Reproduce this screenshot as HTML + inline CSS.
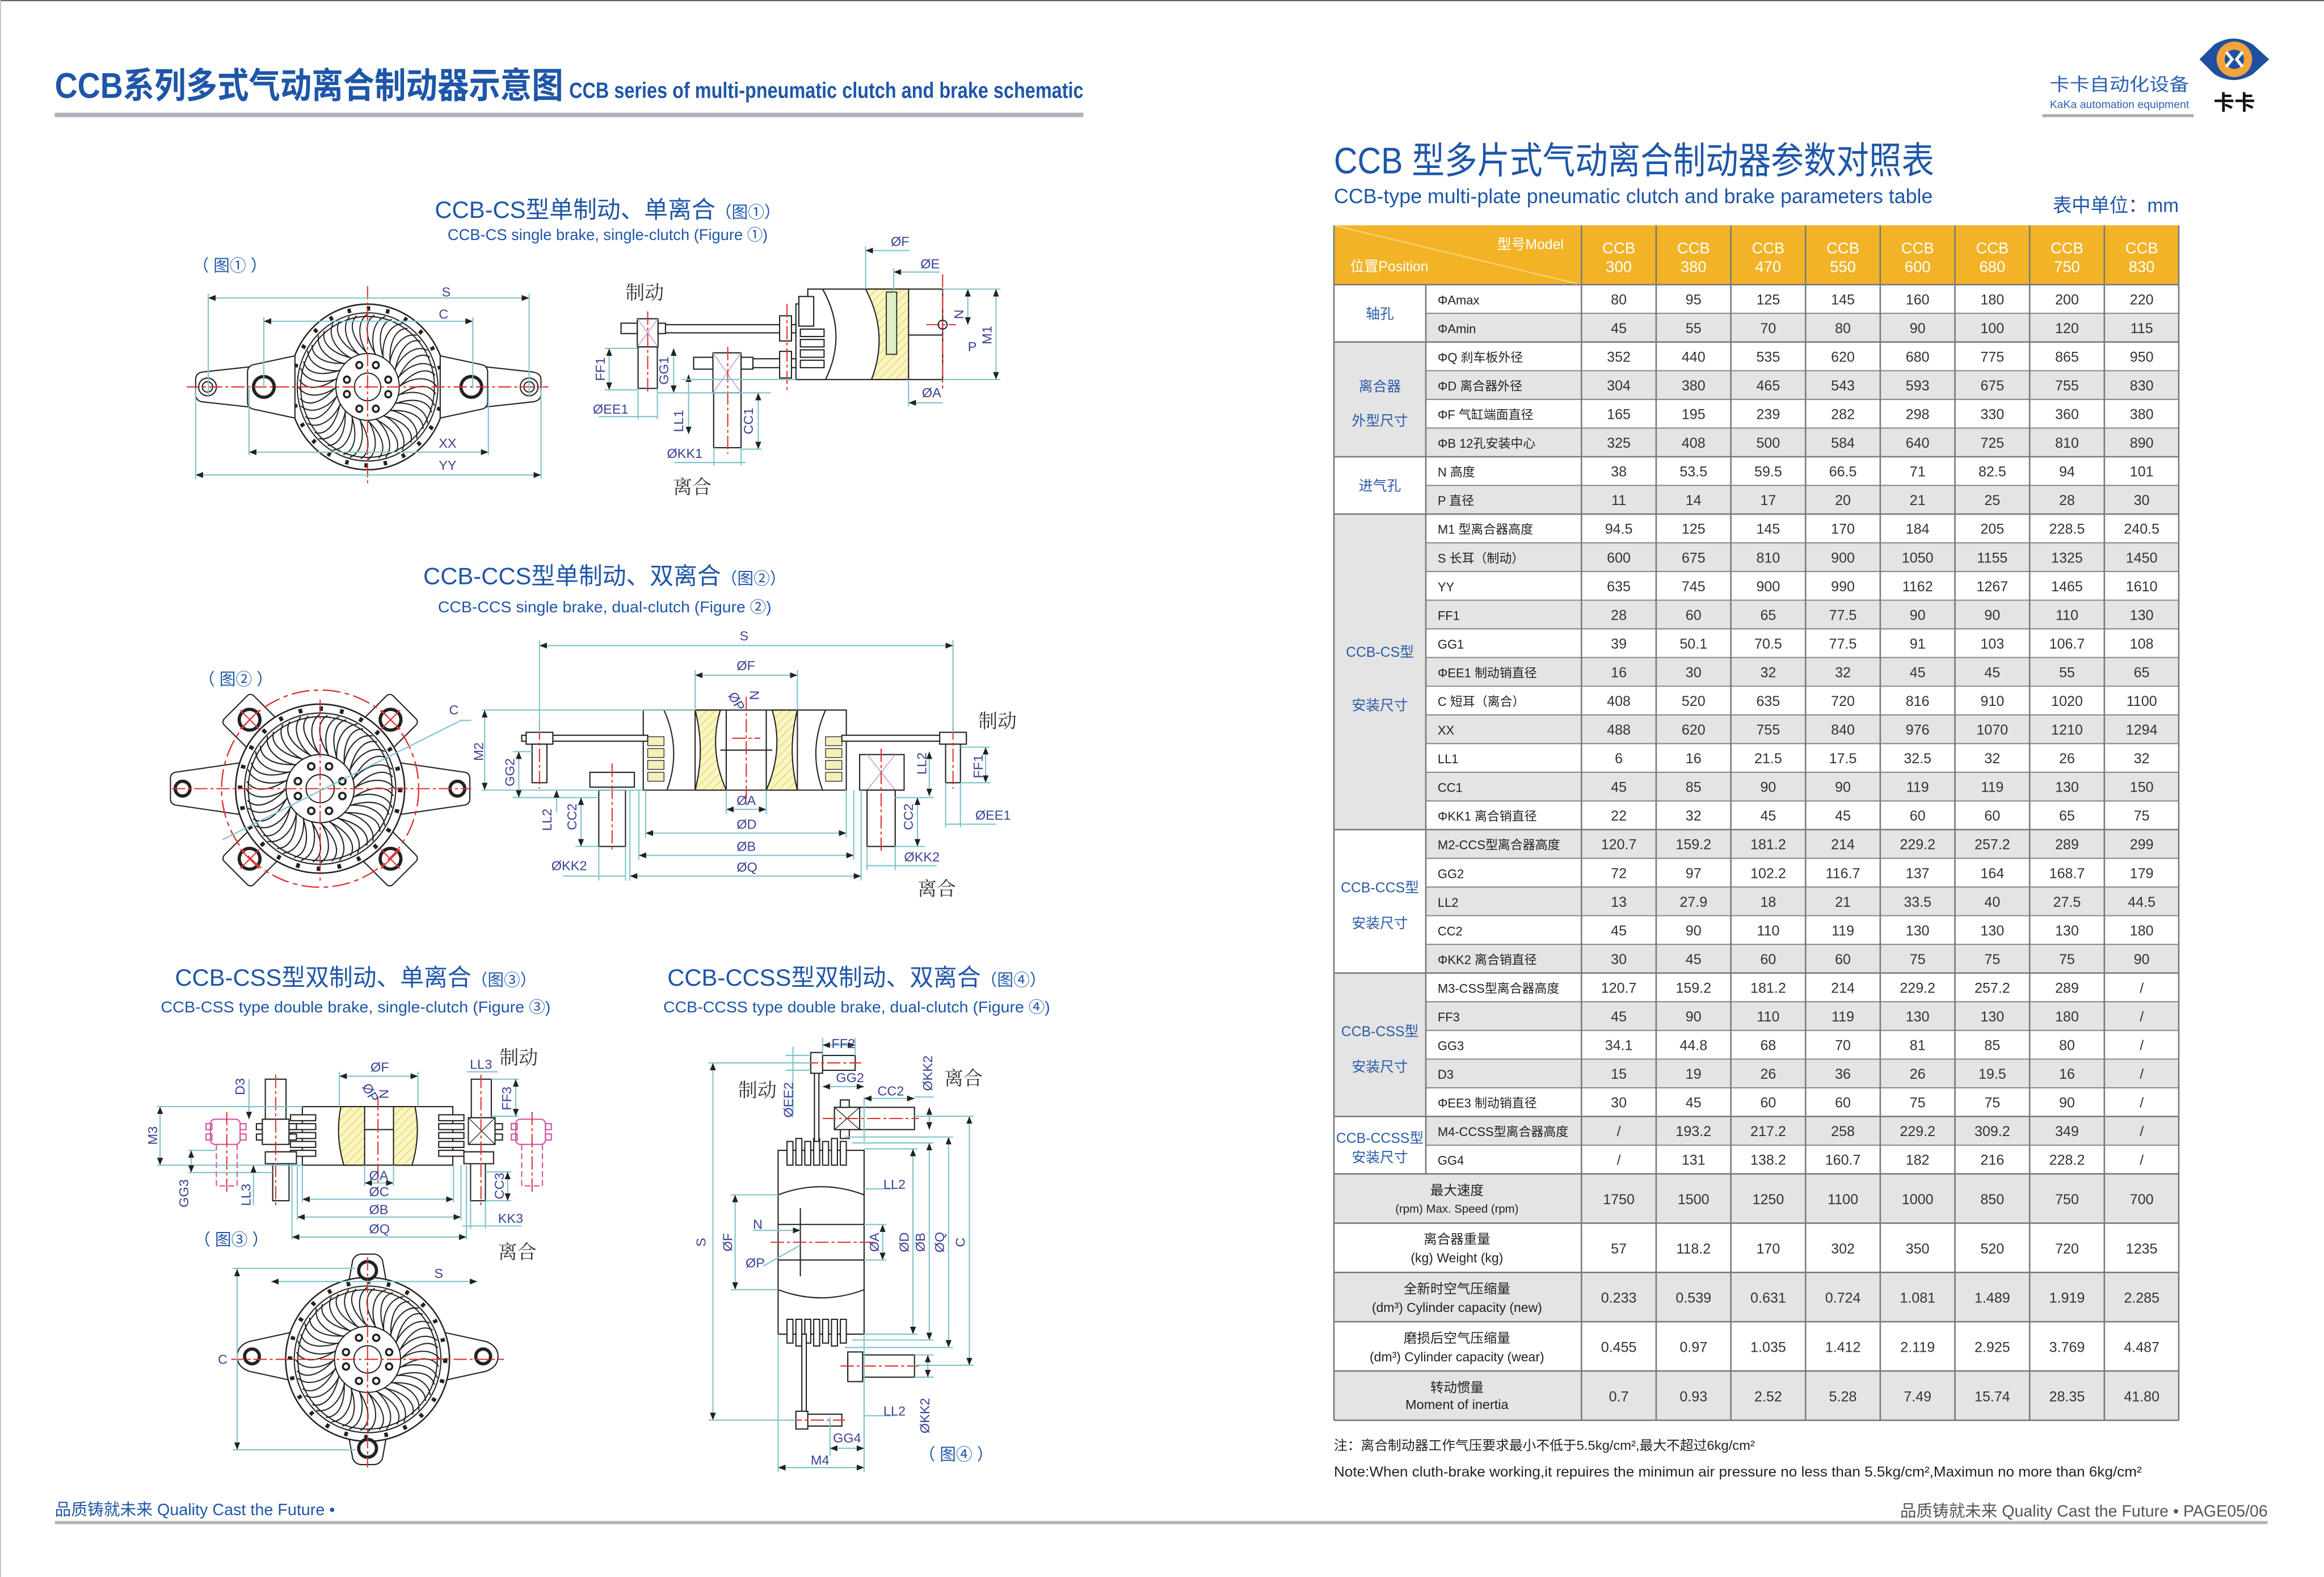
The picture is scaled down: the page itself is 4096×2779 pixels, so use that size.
<!DOCTYPE html>
<html><head><meta charset="utf-8"><style>
html,body{margin:0;padding:0;background:#fff}
svg{display:block}
.k{fill:none;stroke:#222;stroke-width:.8}
.kw{fill:#fff;stroke:#222;stroke-width:.8}
.d{stroke:#7cc3cc;stroke-width:.8;fill:none}
.r{stroke:#e0312f;stroke-width:.8;fill:none;stroke-dasharray:9 2 2 2}
.lb{fill:#3a4394;font-family:"Liberation Sans",sans-serif;font-size:9px}
.cj{fill:#333;font-family:"Noto Serif CJK SC","Liberation Serif",serif;font-size:13px}
.bl{fill:#1e56a8;font-family:"Liberation Sans","Noto Sans CJK SC",sans-serif}
.v{fill:#333;font-family:"Liberation Sans",sans-serif;font-size:9.6px;text-anchor:middle}
.lab{fill:#222;font-family:"Liberation Sans","Noto Sans CJK SC",sans-serif;font-size:8.4px}
.gp{fill:#2b5aa8;font-family:"Liberation Sans","Noto Sans CJK SC",sans-serif;font-size:9.5px;text-anchor:middle}
.hd{fill:#fff;font-family:"Liberation Sans",sans-serif;font-size:10.5px;text-anchor:middle}
.hat{fill:url(#hp);stroke:#222;stroke-width:.8}
</style></head><body>
<svg width="4096" height="2779" viewBox="0 0 1568 1063.8" xmlns="http://www.w3.org/2000/svg" xmlns:xlink="http://www.w3.org/1999/xlink">
<defs>
<marker id="ar" viewBox="0 0 10 10" refX="10" refY="5" markerWidth="5" markerHeight="5" markerUnits="userSpaceOnUse" orient="auto-start-reverse"><path d="M0 1 L10 5 L0 9 Z" fill="#222"/></marker>
<pattern id="hp" width="4" height="4" patternUnits="userSpaceOnUse" patternTransform="rotate(45)"><rect width="4" height="4" fill="#fbf5c4"/><line x1="0" y1="0" x2="0" y2="4" stroke="#e2d35a" stroke-width="1"/></pattern>
<path id="bl" d="M21 -5 C 30 -16, 42 -19, 48.5 -13 M23 0 C 33 -11, 43 -14, 49 -8" fill="none" stroke="#222" stroke-width=".8"/>
<g id="fan">
<circle r="57" fill="#fff" stroke="#222" stroke-width="1"/>
<circle r="54" fill="none" stroke="#222" stroke-width="3" stroke-dasharray="2.5 11.6"/>
<circle r="51" class="k"/><circle r="48.5" class="k"/>
<use href="#bl"/><use href="#bl" transform="rotate(15)"/><use href="#bl" transform="rotate(30)"/><use href="#bl" transform="rotate(45)"/><use href="#bl" transform="rotate(60)"/><use href="#bl" transform="rotate(75)"/><use href="#bl" transform="rotate(90)"/><use href="#bl" transform="rotate(105)"/><use href="#bl" transform="rotate(120)"/><use href="#bl" transform="rotate(135)"/><use href="#bl" transform="rotate(150)"/><use href="#bl" transform="rotate(165)"/><use href="#bl" transform="rotate(180)"/><use href="#bl" transform="rotate(195)"/><use href="#bl" transform="rotate(210)"/><use href="#bl" transform="rotate(225)"/><use href="#bl" transform="rotate(240)"/><use href="#bl" transform="rotate(255)"/><use href="#bl" transform="rotate(270)"/><use href="#bl" transform="rotate(285)"/><use href="#bl" transform="rotate(300)"/><use href="#bl" transform="rotate(315)"/><use href="#bl" transform="rotate(330)"/><use href="#bl" transform="rotate(345)"/>
<circle r="23" fill="#fff" stroke="#222" stroke-width=".8"/>
<circle r="9.5" class="k"/>
<g fill="none" stroke="#222" stroke-width="1.4"><circle cx="6" cy="-15" r="2.2"/><circle cx="-6" cy="-15" r="2.2"/><circle cx="15" cy="-5" r="2.2"/><circle cx="15" cy="5" r="2.2"/><circle cx="6" cy="15" r="2.2"/><circle cx="-6" cy="15" r="2.2"/><circle cx="-15" cy="5" r="2.2"/><circle cx="-15" cy="-5" r="2.2"/></g>
</g>
</defs>

<!-- page frame -->
<line x1="0" y1=".4" x2="1568" y2=".4" stroke="#666" stroke-width=".8"/>
<line x1=".3" y1="0" x2=".3" y2="1064" stroke="#bbb" stroke-width=".6"/>

<!-- Left header -->
<text x="37" y="66" class="bl" font-size="24" font-weight="bold" textLength="343" lengthAdjust="spacingAndGlyphs">CCB系列多式气动离合制动器示意图</text>
<text x="384" y="66" class="bl" font-size="15" font-weight="bold" textLength="347" lengthAdjust="spacingAndGlyphs">CCB series of multi-pneumatic clutch and brake schematic</text>
<rect x="37" y="76" width="694" height="3" fill="#b0b4b8"/>

<!-- Logo -->
<text x="1383" y="61" font-size="12" fill="#2a62b0" font-family="'Noto Sans CJK SC',sans-serif" textLength="94" lengthAdjust="spacingAndGlyphs">卡卡自动化设备</text>
<text x="1383" y="73" font-size="7.5" fill="#2a62b0" font-family="'Liberation Sans',sans-serif" textLength="94" lengthAdjust="spacingAndGlyphs">KaKa automation equipment</text>
<rect x="1378" y="77" width="102" height="2" fill="#a8abb0"/>
<path d="M1484 40 L1494 30 Q1507 22 1520 30 L1531 40 L1520 50 Q1507 58 1494 50 Z" fill="#1f4fa0"/>
<circle cx="1507.5" cy="40" r="12" fill="#f2a33a"/>
<circle cx="1507.5" cy="40" r="6.5" fill="#1f4fa0"/>
<path d="M1502 35 L1506 40 L1502 45 M1513 35 L1509 40 L1513 45" stroke="#fff" stroke-width="2" fill="none"/>
<text x="1507.5" y="74" font-size="14" font-weight="bold" text-anchor="middle" fill="#111" font-family="'Noto Sans CJK SC',sans-serif">卡卡</text>

<!-- Right title -->
<text x="900" y="117" class="bl" font-size="25" textLength="405" lengthAdjust="spacingAndGlyphs">CCB  型多片式气动离合制动器参数对照表</text>
<text x="900" y="137" class="bl" font-size="14" textLength="404" lengthAdjust="spacingAndGlyphs">CCB-type multi-plate pneumatic clutch and brake parameters table</text>
<text x="1385" y="143" class="bl" font-size="13" textLength="85" lengthAdjust="spacingAndGlyphs">表中单位：mm</text>

<!-- ===================== TABLE ===================== -->
<rect x="900" y="152" width="570" height="40" fill="#f2b327"/>
<line x1="900" y1="152" x2="1067" y2="192" stroke="#f7d67e" stroke-width=".8"/>
<text x="1055" y="168" fill="#fff" font-size="9.5" text-anchor="end" font-family="'Liberation Sans','Noto Sans CJK SC',sans-serif">型号Model</text>
<text x="911" y="183" fill="#fff" font-size="9.5" font-family="'Liberation Sans','Noto Sans CJK SC',sans-serif">位置Position</text>
<text y="171" class="hd"><tspan x="1092.2">CCB</tspan><tspan x="1142.6">CCB</tspan><tspan x="1193">CCB</tspan><tspan x="1243.4">CCB</tspan><tspan x="1293.8">CCB</tspan><tspan x="1344.2">CCB</tspan><tspan x="1394.6">CCB</tspan><tspan x="1445">CCB</tspan></text>
<text y="183.5" class="hd"><tspan x="1092.2">300</tspan><tspan x="1142.6">380</tspan><tspan x="1193">470</tspan><tspan x="1243.4">550</tspan><tspan x="1293.8">600</tspan><tspan x="1344.2">680</tspan><tspan x="1394.6">750</tspan><tspan x="1445">830</tspan></text>

<g fill="#e4e4e4">
<rect x="962" y="211.35" width="508" height="19.35"/><rect x="962" y="250.05" width="508" height="19.35"/><rect x="962" y="288.75" width="508" height="19.35"/><rect x="962" y="327.45" width="508" height="19.35"/><rect x="962" y="366.15" width="508" height="19.35"/><rect x="962" y="404.85" width="508" height="19.35"/><rect x="962" y="443.55" width="508" height="19.35"/><rect x="962" y="482.25" width="508" height="19.35"/><rect x="962" y="520.95" width="508" height="19.35"/><rect x="962" y="559.65" width="508" height="19.35"/><rect x="962" y="598.35" width="508" height="19.35"/><rect x="962" y="637.05" width="508" height="19.35"/><rect x="962" y="675.75" width="508" height="19.35"/><rect x="962" y="714.45" width="508" height="19.35"/><rect x="962" y="753.15" width="508" height="19.35"/>
<rect x="900" y="230.7" width="62" height="77.4"/><rect x="900" y="346.8" width="62" height="212.85"/><rect x="900" y="656.4" width="62" height="96.75"/>
<rect x="900" y="791.85" width="570" height="33.25"/><rect x="900" y="858.35" width="570" height="33.25"/><rect x="900" y="924.85" width="570" height="33.25"/>
</g>
<g stroke="#8a8a8a" stroke-width=".8">
<line x1="962" y1="211.35" x2="1470" y2="211.35"/><line x1="962" y1="250.05" x2="1470" y2="250.05"/><line x1="962" y1="269.4" x2="1470" y2="269.4"/><line x1="962" y1="288.75" x2="1470" y2="288.75"/><line x1="962" y1="327.45" x2="1470" y2="327.45"/><line x1="962" y1="366.15" x2="1470" y2="366.15"/><line x1="962" y1="385.5" x2="1470" y2="385.5"/><line x1="962" y1="404.85" x2="1470" y2="404.85"/><line x1="962" y1="424.2" x2="1470" y2="424.2"/><line x1="962" y1="443.55" x2="1470" y2="443.55"/><line x1="962" y1="462.9" x2="1470" y2="462.9"/><line x1="962" y1="482.25" x2="1470" y2="482.25"/><line x1="962" y1="501.6" x2="1470" y2="501.6"/><line x1="962" y1="520.95" x2="1470" y2="520.95"/><line x1="962" y1="540.3" x2="1470" y2="540.3"/><line x1="962" y1="579" x2="1470" y2="579"/><line x1="962" y1="598.35" x2="1470" y2="598.35"/><line x1="962" y1="617.7" x2="1470" y2="617.7"/><line x1="962" y1="637.05" x2="1470" y2="637.05"/><line x1="962" y1="675.75" x2="1470" y2="675.75"/><line x1="962" y1="695.1" x2="1470" y2="695.1"/><line x1="962" y1="714.45" x2="1470" y2="714.45"/><line x1="962" y1="733.8" x2="1470" y2="733.8"/><line x1="962" y1="772.5" x2="1470" y2="772.5"/>
</g>
<g stroke="#7a7a7a" stroke-width="1">
<line x1="900" y1="192" x2="1470" y2="192"/><line x1="900" y1="230.7" x2="1470" y2="230.7"/><line x1="900" y1="308.1" x2="1470" y2="308.1"/><line x1="900" y1="346.8" x2="1470" y2="346.8"/><line x1="900" y1="559.65" x2="1470" y2="559.65"/><line x1="900" y1="656.4" x2="1470" y2="656.4"/><line x1="900" y1="753.15" x2="1470" y2="753.15"/><line x1="900" y1="791.85" x2="1470" y2="791.85"/><line x1="900" y1="825.1" x2="1470" y2="825.1"/><line x1="900" y1="858.35" x2="1470" y2="858.35"/><line x1="900" y1="891.6" x2="1470" y2="891.6"/><line x1="900" y1="924.85" x2="1470" y2="924.85"/><line x1="900" y1="958.1" x2="1470" y2="958.1"/>
<line x1="900" y1="152" x2="900" y2="958.1"/><line x1="1470" y1="152" x2="1470" y2="958.1"/>
<line x1="962" y1="192" x2="962" y2="791.85"/>
<line x1="1067" y1="152" x2="1067" y2="958.1"/><line x1="1117.4" y1="152" x2="1117.4" y2="958.1"/><line x1="1167.8" y1="152" x2="1167.8" y2="958.1"/><line x1="1218.2" y1="152" x2="1218.2" y2="958.1"/><line x1="1268.6" y1="152" x2="1268.6" y2="958.1"/><line x1="1319" y1="152" x2="1319" y2="958.1"/><line x1="1369.4" y1="152" x2="1369.4" y2="958.1"/><line x1="1419.8" y1="152" x2="1419.8" y2="958.1"/>
</g>

<!-- group labels -->
<text x="931" y="215" class="gp">轴孔</text>
<text x="931" y="264" class="gp">离合器</text><text x="931" y="287" class="gp">外型尺寸</text>
<text x="931" y="331" class="gp">进气孔</text>
<text x="931" y="443" class="gp">CCB-CS型</text><text x="931" y="479" class="gp">安装尺寸</text>
<text x="931" y="602" class="gp" font-size="8.8">CCB-CCS型</text><text x="931" y="626" class="gp">安装尺寸</text>
<text x="931" y="699" class="gp" font-size="8.8">CCB-CSS型</text><text x="931" y="723" class="gp">安装尺寸</text>
<text x="931" y="771" class="gp" font-size="8.4">CCB-CCSS型</text><text x="931" y="784" class="gp" font-size="8.8">安装尺寸</text>

<!-- row labels -->
<g class="lab">
<text x="970" y="205.3">ΦAmax</text><text x="970" y="224.65">ΦAmin</text>
<text x="970" y="244">ΦQ  刹车板外径</text><text x="970" y="263.35">ΦD  离合器外径</text><text x="970" y="282.7">ΦF  气缸端面直径</text><text x="970" y="302.05">ΦB  12孔安装中心</text>
<text x="970" y="321.4">N    高度</text><text x="970" y="340.75">P    直径</text>
<text x="970" y="360.1">M1  型离合器高度</text><text x="970" y="379.45">S    长耳（制动）</text><text x="970" y="398.8">YY</text><text x="970" y="418.15">FF1</text><text x="970" y="437.5">GG1</text><text x="970" y="456.85">ΦEE1 制动销直径</text><text x="970" y="476.2">C    短耳（离合）</text><text x="970" y="495.55">XX</text><text x="970" y="514.9">LL1</text><text x="970" y="534.25">CC1</text><text x="970" y="553.6">ΦKK1 离合销直径</text>
<text x="970" y="572.95">M2-CCS型离合器高度</text><text x="970" y="592.3">GG2</text><text x="970" y="611.65">LL2</text><text x="970" y="631">CC2</text><text x="970" y="650.35">ΦKK2 离合销直径</text>
<text x="970" y="669.7">M3-CSS型离合器高度</text><text x="970" y="689.05">FF3</text><text x="970" y="708.4">GG3</text><text x="970" y="727.75">D3</text><text x="970" y="747.1">ΦEE3 制动销直径</text>
<text x="970" y="766.45">M4-CCSS型离合器高度</text><text x="970" y="785.8">GG4</text>
</g>

<!-- values -->
<g class="v">
<text y="205.3"><tspan x="1092.2">80</tspan><tspan x="1142.6">95</tspan><tspan x="1193">125</tspan><tspan x="1243.4">145</tspan><tspan x="1293.8">160</tspan><tspan x="1344.2">180</tspan><tspan x="1394.6">200</tspan><tspan x="1445">220</tspan></text>
<text y="224.65"><tspan x="1092.2">45</tspan><tspan x="1142.6">55</tspan><tspan x="1193">70</tspan><tspan x="1243.4">80</tspan><tspan x="1293.8">90</tspan><tspan x="1344.2">100</tspan><tspan x="1394.6">120</tspan><tspan x="1445">115</tspan></text>
<text y="244"><tspan x="1092.2">352</tspan><tspan x="1142.6">440</tspan><tspan x="1193">535</tspan><tspan x="1243.4">620</tspan><tspan x="1293.8">680</tspan><tspan x="1344.2">775</tspan><tspan x="1394.6">865</tspan><tspan x="1445">950</tspan></text>
<text y="263.35"><tspan x="1092.2">304</tspan><tspan x="1142.6">380</tspan><tspan x="1193">465</tspan><tspan x="1243.4">543</tspan><tspan x="1293.8">593</tspan><tspan x="1344.2">675</tspan><tspan x="1394.6">755</tspan><tspan x="1445">830</tspan></text>
<text y="282.7"><tspan x="1092.2">165</tspan><tspan x="1142.6">195</tspan><tspan x="1193">239</tspan><tspan x="1243.4">282</tspan><tspan x="1293.8">298</tspan><tspan x="1344.2">330</tspan><tspan x="1394.6">360</tspan><tspan x="1445">380</tspan></text>
<text y="302.05"><tspan x="1092.2">325</tspan><tspan x="1142.6">408</tspan><tspan x="1193">500</tspan><tspan x="1243.4">584</tspan><tspan x="1293.8">640</tspan><tspan x="1344.2">725</tspan><tspan x="1394.6">810</tspan><tspan x="1445">890</tspan></text>
<text y="321.4"><tspan x="1092.2">38</tspan><tspan x="1142.6">53.5</tspan><tspan x="1193">59.5</tspan><tspan x="1243.4">66.5</tspan><tspan x="1293.8">71</tspan><tspan x="1344.2">82.5</tspan><tspan x="1394.6">94</tspan><tspan x="1445">101</tspan></text>
<text y="340.75"><tspan x="1092.2">11</tspan><tspan x="1142.6">14</tspan><tspan x="1193">17</tspan><tspan x="1243.4">20</tspan><tspan x="1293.8">21</tspan><tspan x="1344.2">25</tspan><tspan x="1394.6">28</tspan><tspan x="1445">30</tspan></text>
<text y="360.1"><tspan x="1092.2">94.5</tspan><tspan x="1142.6">125</tspan><tspan x="1193">145</tspan><tspan x="1243.4">170</tspan><tspan x="1293.8">184</tspan><tspan x="1344.2">205</tspan><tspan x="1394.6">228.5</tspan><tspan x="1445">240.5</tspan></text>
<text y="379.45"><tspan x="1092.2">600</tspan><tspan x="1142.6">675</tspan><tspan x="1193">810</tspan><tspan x="1243.4">900</tspan><tspan x="1293.8">1050</tspan><tspan x="1344.2">1155</tspan><tspan x="1394.6">1325</tspan><tspan x="1445">1450</tspan></text>
<text y="398.8"><tspan x="1092.2">635</tspan><tspan x="1142.6">745</tspan><tspan x="1193">900</tspan><tspan x="1243.4">990</tspan><tspan x="1293.8">1162</tspan><tspan x="1344.2">1267</tspan><tspan x="1394.6">1465</tspan><tspan x="1445">1610</tspan></text>
<text y="418.15"><tspan x="1092.2">28</tspan><tspan x="1142.6">60</tspan><tspan x="1193">65</tspan><tspan x="1243.4">77.5</tspan><tspan x="1293.8">90</tspan><tspan x="1344.2">90</tspan><tspan x="1394.6">110</tspan><tspan x="1445">130</tspan></text>
<text y="437.5"><tspan x="1092.2">39</tspan><tspan x="1142.6">50.1</tspan><tspan x="1193">70.5</tspan><tspan x="1243.4">77.5</tspan><tspan x="1293.8">91</tspan><tspan x="1344.2">103</tspan><tspan x="1394.6">106.7</tspan><tspan x="1445">108</tspan></text>
<text y="456.85"><tspan x="1092.2">16</tspan><tspan x="1142.6">30</tspan><tspan x="1193">32</tspan><tspan x="1243.4">32</tspan><tspan x="1293.8">45</tspan><tspan x="1344.2">45</tspan><tspan x="1394.6">55</tspan><tspan x="1445">65</tspan></text>
<text y="476.2"><tspan x="1092.2">408</tspan><tspan x="1142.6">520</tspan><tspan x="1193">635</tspan><tspan x="1243.4">720</tspan><tspan x="1293.8">816</tspan><tspan x="1344.2">910</tspan><tspan x="1394.6">1020</tspan><tspan x="1445">1100</tspan></text>
<text y="495.55"><tspan x="1092.2">488</tspan><tspan x="1142.6">620</tspan><tspan x="1193">755</tspan><tspan x="1243.4">840</tspan><tspan x="1293.8">976</tspan><tspan x="1344.2">1070</tspan><tspan x="1394.6">1210</tspan><tspan x="1445">1294</tspan></text>
<text y="514.9"><tspan x="1092.2">6</tspan><tspan x="1142.6">16</tspan><tspan x="1193">21.5</tspan><tspan x="1243.4">17.5</tspan><tspan x="1293.8">32.5</tspan><tspan x="1344.2">32</tspan><tspan x="1394.6">26</tspan><tspan x="1445">32</tspan></text>
<text y="534.25"><tspan x="1092.2">45</tspan><tspan x="1142.6">85</tspan><tspan x="1193">90</tspan><tspan x="1243.4">90</tspan><tspan x="1293.8">119</tspan><tspan x="1344.2">119</tspan><tspan x="1394.6">130</tspan><tspan x="1445">150</tspan></text>
<text y="553.6"><tspan x="1092.2">22</tspan><tspan x="1142.6">32</tspan><tspan x="1193">45</tspan><tspan x="1243.4">45</tspan><tspan x="1293.8">60</tspan><tspan x="1344.2">60</tspan><tspan x="1394.6">65</tspan><tspan x="1445">75</tspan></text>
<text y="572.95"><tspan x="1092.2">120.7</tspan><tspan x="1142.6">159.2</tspan><tspan x="1193">181.2</tspan><tspan x="1243.4">214</tspan><tspan x="1293.8">229.2</tspan><tspan x="1344.2">257.2</tspan><tspan x="1394.6">289</tspan><tspan x="1445">299</tspan></text>
<text y="592.3"><tspan x="1092.2">72</tspan><tspan x="1142.6">97</tspan><tspan x="1193">102.2</tspan><tspan x="1243.4">116.7</tspan><tspan x="1293.8">137</tspan><tspan x="1344.2">164</tspan><tspan x="1394.6">168.7</tspan><tspan x="1445">179</tspan></text>
<text y="611.65"><tspan x="1092.2">13</tspan><tspan x="1142.6">27.9</tspan><tspan x="1193">18</tspan><tspan x="1243.4">21</tspan><tspan x="1293.8">33.5</tspan><tspan x="1344.2">40</tspan><tspan x="1394.6">27.5</tspan><tspan x="1445">44.5</tspan></text>
<text y="631"><tspan x="1092.2">45</tspan><tspan x="1142.6">90</tspan><tspan x="1193">110</tspan><tspan x="1243.4">119</tspan><tspan x="1293.8">130</tspan><tspan x="1344.2">130</tspan><tspan x="1394.6">130</tspan><tspan x="1445">180</tspan></text>
<text y="650.35"><tspan x="1092.2">30</tspan><tspan x="1142.6">45</tspan><tspan x="1193">60</tspan><tspan x="1243.4">60</tspan><tspan x="1293.8">75</tspan><tspan x="1344.2">75</tspan><tspan x="1394.6">75</tspan><tspan x="1445">90</tspan></text>
<text y="669.7"><tspan x="1092.2">120.7</tspan><tspan x="1142.6">159.2</tspan><tspan x="1193">181.2</tspan><tspan x="1243.4">214</tspan><tspan x="1293.8">229.2</tspan><tspan x="1344.2">257.2</tspan><tspan x="1394.6">289</tspan><tspan x="1445">/</tspan></text>
<text y="689.05"><tspan x="1092.2">45</tspan><tspan x="1142.6">90</tspan><tspan x="1193">110</tspan><tspan x="1243.4">119</tspan><tspan x="1293.8">130</tspan><tspan x="1344.2">130</tspan><tspan x="1394.6">180</tspan><tspan x="1445">/</tspan></text>
<text y="708.4"><tspan x="1092.2">34.1</tspan><tspan x="1142.6">44.8</tspan><tspan x="1193">68</tspan><tspan x="1243.4">70</tspan><tspan x="1293.8">81</tspan><tspan x="1344.2">85</tspan><tspan x="1394.6">80</tspan><tspan x="1445">/</tspan></text>
<text y="727.75"><tspan x="1092.2">15</tspan><tspan x="1142.6">19</tspan><tspan x="1193">26</tspan><tspan x="1243.4">36</tspan><tspan x="1293.8">26</tspan><tspan x="1344.2">19.5</tspan><tspan x="1394.6">16</tspan><tspan x="1445">/</tspan></text>
<text y="747.1"><tspan x="1092.2">30</tspan><tspan x="1142.6">45</tspan><tspan x="1193">60</tspan><tspan x="1243.4">60</tspan><tspan x="1293.8">75</tspan><tspan x="1344.2">75</tspan><tspan x="1394.6">90</tspan><tspan x="1445">/</tspan></text>
<text y="766.45"><tspan x="1092.2">/</tspan><tspan x="1142.6">193.2</tspan><tspan x="1193">217.2</tspan><tspan x="1243.4">258</tspan><tspan x="1293.8">229.2</tspan><tspan x="1344.2">309.2</tspan><tspan x="1394.6">349</tspan><tspan x="1445">/</tspan></text>
<text y="785.8"><tspan x="1092.2">/</tspan><tspan x="1142.6">131</tspan><tspan x="1193">138.2</tspan><tspan x="1243.4">160.7</tspan><tspan x="1293.8">182</tspan><tspan x="1344.2">216</tspan><tspan x="1394.6">228.2</tspan><tspan x="1445">/</tspan></text>
<text y="812.3"><tspan x="1092.2">1750</tspan><tspan x="1142.6">1500</tspan><tspan x="1193">1250</tspan><tspan x="1243.4">1100</tspan><tspan x="1293.8">1000</tspan><tspan x="1344.2">850</tspan><tspan x="1394.6">750</tspan><tspan x="1445">700</tspan></text>
<text y="845.6"><tspan x="1092.2">57</tspan><tspan x="1142.6">118.2</tspan><tspan x="1193">170</tspan><tspan x="1243.4">302</tspan><tspan x="1293.8">350</tspan><tspan x="1344.2">520</tspan><tspan x="1394.6">720</tspan><tspan x="1445">1235</tspan></text>
<text y="878.8"><tspan x="1092.2">0.233</tspan><tspan x="1142.6">0.539</tspan><tspan x="1193">0.631</tspan><tspan x="1243.4">0.724</tspan><tspan x="1293.8">1.081</tspan><tspan x="1344.2">1.489</tspan><tspan x="1394.6">1.919</tspan><tspan x="1445">2.285</tspan></text>
<text y="912.1"><tspan x="1092.2">0.455</tspan><tspan x="1142.6">0.97</tspan><tspan x="1193">1.035</tspan><tspan x="1243.4">1.412</tspan><tspan x="1293.8">2.119</tspan><tspan x="1344.2">2.925</tspan><tspan x="1394.6">3.769</tspan><tspan x="1445">4.487</tspan></text>
<text y="945.3"><tspan x="1092.2">0.7</tspan><tspan x="1142.6">0.93</tspan><tspan x="1193">2.52</tspan><tspan x="1243.4">5.28</tspan><tspan x="1293.8">7.49</tspan><tspan x="1344.2">15.74</tspan><tspan x="1394.6">28.35</tspan><tspan x="1445">41.80</tspan></text>
</g>
<g fill="#222" font-family="'Liberation Sans','Noto Sans CJK SC',sans-serif" text-anchor="middle">
<text x="983" y="806" font-size="9">最大速度</text><text x="983" y="818" font-size="7.8">(rpm) Max. Speed (rpm)</text>
<text x="983" y="839" font-size="9">离合器重量</text><text x="983" y="851.5" font-size="8.8">(kg) Weight (kg)</text>
<text x="983" y="872.5" font-size="9">全新时空气压缩量</text><text x="983" y="885" font-size="8.8">(dm³) Cylinder capacity (new)</text>
<text x="983" y="905.8" font-size="9">磨损后空气压缩量</text><text x="983" y="918.3" font-size="8.8">(dm³) Cylinder capacity (wear)</text>
<text x="983" y="939" font-size="9">转动惯量</text><text x="983" y="950.5" font-size="9">Moment of inertia</text>
</g>

<!-- notes -->
<text x="900" y="978" font-size="9" fill="#222" font-family="'Liberation Sans','Noto Sans CJK SC',sans-serif" textLength="284" lengthAdjust="spacingAndGlyphs">注：离合制动器工作气压要求最小不低于5.5kg/cm²,最大不超过6kg/cm²</text>
<text x="900" y="996" font-size="9.5" fill="#222" font-family="'Liberation Sans',sans-serif" textLength="545" lengthAdjust="spacingAndGlyphs">Note:When cluth-brake working,it repuires the minimun air pressure no less than 5.5kg/cm²,Maximun no more than 6kg/cm²</text>

<!-- footer -->
<text x="37" y="1022" class="bl" font-size="11" textLength="189" lengthAdjust="spacingAndGlyphs">品质铸就未来 Quality Cast the Future •</text>
<text x="1530" y="1023" font-size="11" fill="#555" text-anchor="end" font-family="'Liberation Sans','Noto Sans CJK SC',sans-serif" textLength="248" lengthAdjust="spacingAndGlyphs">品质铸就未来 Quality Cast the Future • PAGE05/06</text>
<rect x="37" y="1026" width="1493" height="2.2" fill="#b4b8bc"/>

<!-- ===================== FIGURE 1 ===================== -->
<text x="410" y="147" text-anchor="middle" class="bl" font-size="16">CCB-CS型单制动、单离合<tspan font-size="11">（图①）</tspan></text>
<text x="410" y="162" text-anchor="middle" class="bl" font-size="10.5" textLength="216" lengthAdjust="spacingAndGlyphs">CCB-CS single brake, single-clutch (Figure ①)</text>
<text x="130" y="183" class="bl" font-size="11">（ 图① ）</text>

<g>
<path d="M200 244 L136 251 Q132 252 132 256 L132 266 Q132 270 136 271 L200 278 Z" class="kw"/>
<path d="M296 244 L360 251 Q365 252 365 256 L365 266 Q365 270 360 271 L296 278 Z" class="kw"/>
<use href="#fan" transform="translate(248,261) scale(.93,.98)"/>
<path d="M199 240 L171 246 Q167 247 167 251 L167 271 Q167 275 171 276 L199 282 Z" class="kw"/>
<path d="M297 240 L325 246 Q329 247 329 251 L329 271 Q329 275 325 276 L297 282 Z" class="kw"/>
<circle cx="140" cy="261" r="6" class="k"/><circle cx="140" cy="261" r="3.5" class="k"/>
<circle cx="357" cy="261" r="6" class="k"/><circle cx="357" cy="261" r="3.5" class="k"/>
<circle cx="178" cy="261" r="7" fill="#fff" stroke="#222" stroke-width="2.2"/><circle cx="318" cy="261" r="7" fill="#fff" stroke="#222" stroke-width="2.2"/>
<line x1="126" y1="261" x2="370" y2="261" class="r"/><line x1="248" y1="193" x2="248" y2="328" class="r"/>
<line x1="140.5" y1="201" x2="357" y2="201" class="d" marker-start="url(#ar)" marker-end="url(#ar)"/>
<line x1="140.5" y1="198" x2="140.5" y2="268" class="d"/><line x1="357" y1="198" x2="357" y2="268" class="d"/>
<line x1="178" y1="216.7" x2="319" y2="216.7" class="d" marker-start="url(#ar)" marker-end="url(#ar)"/>
<line x1="178" y1="214" x2="178" y2="262" class="d"/><line x1="319" y1="214" x2="319" y2="262" class="d"/>
<line x1="168" y1="305" x2="329.5" y2="305" class="d" marker-start="url(#ar)" marker-end="url(#ar)"/>
<line x1="168" y1="262" x2="168" y2="307" class="d"/><line x1="329.5" y1="262" x2="329.5" y2="307" class="d"/>
<line x1="132" y1="320.4" x2="365" y2="320.4" class="d" marker-start="url(#ar)" marker-end="url(#ar)"/>
<line x1="132" y1="262" x2="132" y2="323" class="d"/><line x1="365" y1="262" x2="365" y2="323" class="d"/>
<text x="298" y="200" class="lb" font-size="11">S</text><text x="296" y="215" class="lb" font-size="11">C</text>
<text x="296" y="302" class="lb" font-size="11">XX</text><text x="296" y="317" class="lb" font-size="11">YY</text>
</g>

<!-- fig1 side -->
<g>
<path d="M545 195 L636 195 L636 256 L537 256 L537 205 L545 205 Z" class="kw"/>
<path d="M584 195 L613 195 L613 256 L588 256 Q600 225 584 195 Z" class="hat"/>
<path d="M555 195 Q572 225 557 256" class="k"/>
<line x1="613" y1="226" x2="636" y2="226" class="k"/>
<rect x="598" y="197" width="7" height="42" fill="#dff0c8" stroke="#222" stroke-width=".7"/>
<g class="kw"><rect x="539" y="200" width="10" height="20"/><rect x="540" y="222" width="16" height="5"/><rect x="540" y="229" width="16" height="5"/><rect x="540" y="236" width="16" height="5"/><rect x="540" y="243" width="16" height="5"/></g>
<rect x="419" y="219" width="118" height="5.5" class="kw"/>
<rect x="468" y="242" width="69" height="6" class="kw"/>
<rect x="526" y="213" width="8" height="17" class="kw"/><rect x="526" y="237" width="8" height="18" class="kw"/>
<rect x="419" y="218" width="11" height="7" class="kw"/><rect x="430" y="215" width="14" height="19" class="kw"/><rect x="444" y="218" width="5" height="7" class="kw"/>
<path d="M430 215 L444 234 M444 215 L430 234" stroke="#c89ad0" stroke-width=".6"/>
<rect x="430.5" y="234" width="13" height="28" class="kw"/>
<rect x="468" y="241" width="13" height="8" class="kw"/><rect x="481" y="238" width="19" height="27" class="kw"/><rect x="500" y="241" width="8" height="8" class="kw"/>
<path d="M481 238 L500 265 M500 238 L481 265" stroke="#c89ad0" stroke-width=".6"/>
<rect x="481.5" y="265" width="18.5" height="37" class="kw"/>
<line x1="437" y1="210" x2="437" y2="266" class="r"/><line x1="491" y1="234" x2="491" y2="306" class="r"/>
<line x1="531" y1="205" x2="531" y2="265" class="r"/><line x1="636" y1="185" x2="636" y2="262" class="r"/>
<line x1="625" y1="219" x2="645" y2="219" class="r"/><circle cx="636" cy="219" r="3" class="k"/>
<line x1="584" y1="169" x2="614" y2="169" class="d" marker-start="url(#ar)"/><line x1="584" y1="166" x2="584" y2="195" class="d"/>
<line x1="603" y1="183.5" x2="634" y2="183.5" class="d" marker-start="url(#ar)"/><line x1="603" y1="181" x2="603" y2="197" class="d"/>
<line x1="653" y1="195" x2="653" y2="219" class="d" marker-start="url(#ar)" marker-end="url(#ar)"/>
<line x1="672" y1="195" x2="672" y2="256" class="d" marker-start="url(#ar)" marker-end="url(#ar)"/>
<line x1="636" y1="195" x2="675" y2="195" class="d"/><line x1="636" y1="256" x2="675" y2="256" class="d"/>
<line x1="613" y1="271.7" x2="636" y2="271.7" class="d" marker-start="url(#ar)"/><line x1="613" y1="256" x2="613" y2="274" class="d"/>
<line x1="411" y1="235" x2="411" y2="263" class="d" marker-start="url(#ar)" marker-end="url(#ar)"/>
<line x1="408" y1="235" x2="430" y2="235" class="d"/><line x1="408" y1="263" x2="430" y2="263" class="d"/>
<line x1="454.5" y1="235" x2="454.5" y2="265" class="d" marker-start="url(#ar)" marker-end="url(#ar)"/>
<line x1="444" y1="265" x2="520" y2="265" class="d"/>
<line x1="404" y1="281" x2="444" y2="281" class="d"/><line x1="430.5" y1="262" x2="430.5" y2="283" class="d"/><line x1="443.5" y1="262" x2="443.5" y2="283" class="d"/>
<line x1="464.6" y1="252.6" x2="464.6" y2="292.8" class="d" marker-start="url(#ar)" marker-end="url(#ar)"/>
<line x1="460" y1="256" x2="537" y2="256" class="d"/>
<line x1="511.6" y1="265" x2="511.6" y2="303" class="d" marker-start="url(#ar)" marker-end="url(#ar)"/>
<line x1="500" y1="303" x2="514" y2="303" class="d"/>
<line x1="455" y1="312" x2="503" y2="312" class="d"/><line x1="481.7" y1="302" x2="481.7" y2="314" class="d"/><line x1="500" y1="302" x2="500" y2="314" class="d"/>
<text x="601" y="166" class="lb">ØF</text><text x="621" y="181" class="lb">ØE</text>
<text transform="translate(650,212) rotate(-90)" class="lb" text-anchor="middle">N</text>
<text transform="translate(669,226) rotate(-90)" class="lb" text-anchor="middle">M1</text>
<text x="653" y="237" class="lb">P</text><text x="622" y="268" class="lb">ØA</text>
<text transform="translate(408,249) rotate(-90)" class="lb" text-anchor="middle">FF1</text>
<text transform="translate(451,250) rotate(-90)" class="lb" text-anchor="middle">GG1</text>
<text x="400" y="279" class="lb">ØEE1</text>
<text transform="translate(461,284) rotate(-90)" class="lb" text-anchor="middle">LL1</text>
<text transform="translate(508,284) rotate(-90)" class="lb" text-anchor="middle">CC1</text>
<text x="450" y="309" class="lb">ØKK1</text>
<text x="422" y="202" class="cj">制动</text><text x="454" y="333" class="cj">离合</text>
</g>

<!-- ===================== FIGURE 2 ===================== -->
<text x="408" y="394" text-anchor="middle" class="bl" font-size="16">CCB-CCS型单制动、双离合<tspan font-size="11">（图②）</tspan></text>
<text x="408" y="413" text-anchor="middle" class="bl" font-size="10.5" textLength="225" lengthAdjust="spacingAndGlyphs">CCB-CCS single brake, dual-clutch (Figure ②)</text>
<text x="134" y="462" class="bl" font-size="11">（ 图② ）</text>
<g>
<path d="M166 514 L118 521 Q115 522 115 525 L115 539 Q115 542 118 543 L166 550 Z" class="kw"/>
<path d="M266 514 L314 521 Q317 522 317 525 L317 539 Q317 542 314 543 L266 550 Z" class="kw"/>
<g class="kw"><rect x="155" y="473" width="28" height="28" rx="3" transform="rotate(45 169 487)"/><rect x="249" y="473" width="28" height="28" rx="3" transform="rotate(45 263 487)"/><rect x="155" y="565" width="28" height="28" rx="3" transform="rotate(45 169 579)"/><rect x="249" y="565" width="28" height="28" rx="3" transform="rotate(45 263 579)"/></g>
<use href="#fan" transform="translate(216,532)"/>
<g fill="#fff" stroke="#222" stroke-width="2.2"><circle cx="168.4" cy="485.5" r="7"/><circle cx="263.5" cy="485.5" r="7"/><circle cx="168.4" cy="579.3" r="7"/><circle cx="263.5" cy="579.3" r="7"/><circle cx="123.2" cy="532" r="5"/><circle cx="308.6" cy="532" r="5"/></g>
<g stroke="#e0312f" stroke-width=".8"><path d="M162 479 L175 492 M175 479 L162 492"/><path d="M257 479 L270 492 M270 479 L257 492"/><path d="M162 573 L175 586 M175 573 L162 586"/><path d="M257 573 L270 586 M270 573 L257 586"/></g>
<circle cx="216" cy="532" r="66.5" fill="none" stroke="#e0312f" stroke-width=".9" stroke-dasharray="12 3 3 3"/>
<line x1="116" y1="532" x2="318" y2="532" class="r"/><line x1="216" y1="472" x2="216" y2="594" class="r"/>
<line x1="150" y1="566.5" x2="311" y2="486" class="d"/><line x1="311" y1="486" x2="318" y2="486" class="d"/>
<text x="303" y="482" class="lb" font-size="11">C</text>
</g>
<!-- fig2 side -->
<g>
<path d="M434 479 L571 479 L571 533 L434 533 Z" class="kw"/>
<path d="M469 479 L486 479 Q478 506 490 533 L469 533 Q476 506 469 479 Z" class="hat"/>
<path d="M521 479 L538 479 Q531 506 538 533 L517 533 Q529 506 521 479 Z" class="hat"/>
<line x1="469" y1="479" x2="469" y2="533" class="k"/><line x1="538" y1="479" x2="538" y2="533" class="k"/>
<line x1="486" y1="506" x2="521" y2="506" class="k"/><line x1="490" y1="479" x2="490" y2="533" class="k"/><line x1="517" y1="479" x2="517" y2="533" class="k"/>
<path d="M448 479 Q460 506 450 533 M557 479 Q545 506 555 533" class="k"/>
<g fill="#f6efb8" stroke="#222" stroke-width=".5"><rect x="437" y="497" width="11" height="6"/><rect x="437" y="505" width="11" height="6"/><rect x="437" y="513" width="11" height="6"/><rect x="437" y="521" width="11" height="6"/><rect x="557" y="497" width="11" height="6"/><rect x="557" y="505" width="11" height="6"/><rect x="557" y="513" width="11" height="6"/><rect x="557" y="521" width="11" height="6"/></g>
<rect x="352" y="496" width="85" height="4" class="kw"/><rect x="568" y="496" width="84" height="4" class="kw"/>
<rect x="355" y="494" width="18" height="8" class="kw"/><rect x="359" y="502" width="10" height="26" class="kw"/>
<rect x="634" y="494" width="18" height="8" class="kw"/><rect x="638" y="502" width="10" height="26" class="kw"/>
<rect x="398" y="521" width="30" height="10" class="kw"/><rect x="404" y="533" width="18" height="38" class="kw"/>
<rect x="580" y="509" width="30" height="24" class="kw"/><path d="M585 509 L604 533 M604 509 L585 533" stroke="#c89ad0" stroke-width=".6"/><rect x="585" y="533" width="19" height="38" class="kw"/>
<line x1="503.5" y1="470" x2="503.5" y2="545" class="r"/><line x1="364" y1="490" x2="364" y2="532" class="r"/><line x1="643" y1="490" x2="643" y2="532" class="r"/>
<line x1="413" y1="515" x2="413" y2="575" class="r"/><line x1="594.5" y1="505" x2="594.5" y2="575" class="r"/><line x1="494" y1="498" x2="513" y2="498" class="r"/>
<line x1="364" y1="435.5" x2="643" y2="435.5" class="d" marker-start="url(#ar)" marker-end="url(#ar)"/>
<line x1="364" y1="432" x2="364" y2="494" class="d"/><line x1="643" y1="432" x2="643" y2="494" class="d"/>
<line x1="469" y1="455.5" x2="538" y2="455.5" class="d" marker-start="url(#ar)" marker-end="url(#ar)"/>
<line x1="469" y1="452" x2="469" y2="479" class="d"/><line x1="538" y1="452" x2="538" y2="479" class="d"/>
<line x1="490" y1="546" x2="517" y2="546" class="d" marker-start="url(#ar)" marker-end="url(#ar)"/>
<line x1="435.6" y1="562" x2="571" y2="562" class="d" marker-start="url(#ar)" marker-end="url(#ar)"/>
<line x1="431" y1="577" x2="576" y2="577" class="d" marker-start="url(#ar)" marker-end="url(#ar)"/>
<line x1="425" y1="591" x2="581" y2="591" class="d" marker-start="url(#ar)" marker-end="url(#ar)"/>
<g class="d"><line x1="490" y1="533" x2="490" y2="549"/><line x1="517" y1="533" x2="517" y2="549"/><line x1="435.6" y1="533" x2="435.6" y2="565"/><line x1="571" y1="533" x2="571" y2="565"/><line x1="431" y1="533" x2="431" y2="580"/><line x1="576" y1="533" x2="576" y2="580"/><line x1="425" y1="533" x2="425" y2="594"/><line x1="581" y1="533" x2="581" y2="594"/>
<line x1="325" y1="479" x2="469" y2="479"/><line x1="325" y1="533" x2="434" y2="533"/><line x1="346" y1="538" x2="404" y2="538"/><line x1="346" y1="507" x2="359" y2="507"/><line x1="388" y1="571" x2="404" y2="571"/><line x1="604" y1="538" x2="630" y2="538"/><line x1="604" y1="571" x2="624" y2="571"/><line x1="648" y1="504" x2="668" y2="504"/><line x1="648" y1="528" x2="668" y2="528"/>
<line x1="380" y1="591" x2="422" y2="591"/><line x1="404" y1="571" x2="404" y2="594"/><line x1="422" y1="571" x2="422" y2="594"/>
<line x1="585" y1="584" x2="632" y2="584"/><line x1="585" y1="571" x2="585" y2="587"/><line x1="604" y1="571" x2="604" y2="587"/>
<line x1="638" y1="556" x2="672" y2="556"/><line x1="638" y1="528" x2="638" y2="558"/><line x1="648" y1="528" x2="648" y2="558"/></g>
<line x1="327" y1="479" x2="327" y2="533" class="d" marker-start="url(#ar)" marker-end="url(#ar)"/>
<line x1="350" y1="507" x2="350" y2="538" class="d" marker-start="url(#ar)" marker-end="url(#ar)"/>
<line x1="375.5" y1="533" x2="375.5" y2="548" class="d" marker-start="url(#ar)"/>
<line x1="392" y1="538" x2="392" y2="571" class="d" marker-start="url(#ar)" marker-end="url(#ar)"/>
<line x1="619" y1="538" x2="619" y2="571" class="d" marker-start="url(#ar)" marker-end="url(#ar)"/>
<line x1="627" y1="507" x2="627" y2="537" class="d" marker-start="url(#ar)" marker-end="url(#ar)"/>
<line x1="665" y1="504" x2="665" y2="528" class="d" marker-start="url(#ar)" marker-end="url(#ar)"/>
<text x="499" y="432" class="lb">S</text><text x="497" y="452" class="lb">ØF</text>
<text transform="translate(491,469) rotate(60)" class="lb">ØP</text>
<text transform="translate(512,469) rotate(-90)" class="lb" text-anchor="middle">N</text>
<text x="497" y="543" class="lb">ØA</text><text x="497" y="559" class="lb">ØD</text><text x="497" y="574" class="lb">ØB</text><text x="497" y="588" class="lb">ØQ</text>
<text transform="translate(326,507) rotate(-90)" class="lb" text-anchor="middle">M2</text>
<text transform="translate(347,521) rotate(-90)" class="lb" text-anchor="middle">GG2</text>
<text transform="translate(372,553) rotate(-90)" class="lb" text-anchor="middle">LL2</text>
<text transform="translate(389,551) rotate(-90)" class="lb" text-anchor="middle">CC2</text>
<text transform="translate(616,551) rotate(-90)" class="lb" text-anchor="middle">CC2</text>
<text transform="translate(625,515) rotate(-90)" class="lb" text-anchor="middle">LL2</text>
<text transform="translate(663,517) rotate(-90)" class="lb" text-anchor="middle">FF1</text>
<text x="658" y="553" class="lb">ØEE1</text>
<text x="372" y="587" class="lb">ØKK2</text><text x="610" y="581" class="lb">ØKK2</text>
<text x="660" y="491" class="cj">制动</text><text x="619" y="604" class="cj">离合</text>
</g>

<!-- ===================== FIGURE 3 ===================== -->
<text x="240" y="665" text-anchor="middle" class="bl" font-size="16">CCB-CSS型双制动、单离合<tspan font-size="11">（图③）</tspan></text>
<text x="240" y="683" text-anchor="middle" class="bl" font-size="10.5" textLength="263" lengthAdjust="spacingAndGlyphs">CCB-CSS type double brake, single-clutch (Figure ③)</text>
<text x="131" y="840" class="bl" font-size="11">（ 图③ ）</text>
<g>
<rect x="204" y="746.5" width="101.5" height="39.5" class="kw"/>
<path d="M230 746.5 L246 746.5 L246 786 L232 786 Q226 766 230 746.5 Z" class="hat"/>
<path d="M265.5 746.5 L280 746.5 Q284 766 278 786 L265.5 786 Z" class="hat"/>
<line x1="246" y1="762" x2="265.5" y2="762" class="k"/>
<g class="kw"><rect x="196" y="752" width="17" height="4"/><rect x="196" y="758" width="17" height="4"/><rect x="196" y="764" width="17" height="4"/><rect x="196" y="770" width="17" height="4"/><rect x="196" y="776" width="17" height="4"/><rect x="296" y="752" width="17" height="4"/><rect x="296" y="758" width="17" height="4"/><rect x="296" y="764" width="17" height="4"/><rect x="296" y="770" width="17" height="4"/><rect x="296" y="776" width="17" height="4"/></g>
<rect x="179" y="728" width="14" height="27" class="kw"/><rect x="177" y="755" width="18" height="17" class="kw"/>
<rect x="173" y="758" width="4" height="4" class="kw"/><rect x="173" y="765" width="4" height="4" class="kw"/><rect x="195" y="758" width="5" height="4" class="kw"/><rect x="195" y="765" width="5" height="4" class="kw"/>
<rect x="184" y="777" width="11" height="33" class="kw"/><rect x="179" y="777" width="21" height="8" class="kw"/>
<rect x="318" y="728" width="13.5" height="26" class="kw"/><rect x="316" y="754" width="18" height="18" class="kw"/><path d="M316 754 L334 772 M334 754 L316 772" stroke="#222" stroke-width=".5"/>
<rect x="334" y="758" width="5" height="4" class="kw"/><rect x="334" y="765" width="5" height="4" class="kw"/>
<rect x="317.5" y="777" width="10" height="33" class="kw"/><rect x="313" y="777" width="20" height="8" class="kw"/>
<g fill="none" stroke="#d050a0" stroke-width=".8"><rect x="142" y="755" width="20" height="17" rx="3"/><rect x="139" y="758" width="4" height="4"/><rect x="139" y="765" width="4" height="4"/><rect x="162" y="758" width="4" height="4"/><rect x="162" y="765" width="4" height="4"/><path d="M146 772 L146 800 L160 800 L160 772" stroke-dasharray="4 2"/>
<rect x="348" y="755" width="20" height="17" rx="3"/><rect x="345" y="758" width="4" height="4"/><rect x="345" y="765" width="4" height="4"/><rect x="368" y="758" width="4" height="4"/><rect x="368" y="765" width="4" height="4"/><path d="M352 772 L352 800 L366 800 L366 772" stroke-dasharray="4 2"/></g>
<line x1="255" y1="740" x2="255" y2="800" class="r"/><line x1="186" y1="725" x2="186" y2="815" class="r"/><line x1="324.5" y1="725" x2="324.5" y2="815" class="r"/>
<line x1="153" y1="750" x2="153" y2="805" class="r" stroke="#d050a0"/><line x1="359" y1="750" x2="359" y2="805" class="r" stroke="#d050a0"/>
<line x1="229" y1="726" x2="282" y2="726" class="d" marker-start="url(#ar)" marker-end="url(#ar)"/>
<line x1="229" y1="723" x2="229" y2="746.5" class="d"/><line x1="282" y1="723" x2="282" y2="746.5" class="d"/>
<line x1="108" y1="746.5" x2="108" y2="786" class="d" marker-start="url(#ar)" marker-end="url(#ar)"/>
<line x1="106" y1="746.5" x2="204" y2="746.5" class="d"/><line x1="106" y1="786" x2="204" y2="786" class="d"/>
<line x1="168" y1="728" x2="168" y2="755" class="d" marker-end="url(#ar)"/>
<line x1="129" y1="776" x2="129" y2="791" class="d" marker-start="url(#ar)" marker-end="url(#ar)"/>
<line x1="127" y1="776" x2="146" y2="776" class="d"/><line x1="127" y1="791" x2="184" y2="791" class="d"/>
<line x1="171" y1="786" x2="171" y2="813" class="d" marker-start="url(#ar)"/>
<line x1="246" y1="798" x2="265.5" y2="798" class="d" marker-start="url(#ar)" marker-end="url(#ar)"/>
<line x1="204" y1="809" x2="306" y2="809" class="d" marker-start="url(#ar)" marker-end="url(#ar)"/>
<line x1="200.6" y1="821" x2="311" y2="821" class="d" marker-start="url(#ar)" marker-end="url(#ar)"/>
<line x1="197" y1="834.5" x2="314.7" y2="834.5" class="d" marker-start="url(#ar)" marker-end="url(#ar)"/>
<g class="d"><line x1="246" y1="786" x2="246" y2="800"/><line x1="265.5" y1="786" x2="265.5" y2="800"/><line x1="204" y1="786" x2="204" y2="811"/><line x1="306" y1="786" x2="306" y2="811"/><line x1="200.6" y1="786" x2="200.6" y2="823"/><line x1="311" y1="786" x2="311" y2="823"/><line x1="197" y1="786" x2="197" y2="836"/><line x1="314.7" y1="786" x2="314.7" y2="836"/>
<line x1="312" y1="827" x2="352" y2="827"/><line x1="317.5" y1="810" x2="317.5" y2="829"/><line x1="327.5" y1="810" x2="327.5" y2="829"/>
<line x1="327.5" y1="790.5" x2="345" y2="790.5"/><line x1="327.5" y1="810" x2="345" y2="810"/><line x1="331.5" y1="728" x2="350" y2="728"/><line x1="331.5" y1="753" x2="350" y2="753"/><line x1="315" y1="723" x2="336" y2="723"/></g>
<line x1="342.5" y1="790.5" x2="342.5" y2="810" class="d" marker-start="url(#ar)" marker-end="url(#ar)"/>
<line x1="348" y1="728" x2="348" y2="753" class="d" marker-start="url(#ar)" marker-end="url(#ar)"/>
<text x="250" y="723" class="lb">ØF</text>
<text transform="translate(244,733) rotate(60)" class="lb">ØP</text>
<text transform="translate(262,738) rotate(-90)" class="lb" text-anchor="middle">N</text>
<text transform="translate(106,766) rotate(-90)" class="lb" text-anchor="middle">M3</text>
<text transform="translate(165,733) rotate(-90)" class="lb" text-anchor="middle">D3</text>
<text transform="translate(127,805) rotate(-90)" class="lb" text-anchor="middle">GG3</text>
<text transform="translate(169,806) rotate(-90)" class="lb" text-anchor="middle">LL3</text>
<text x="249" y="796" class="lb">ØA</text><text x="249" y="807" class="lb">ØC</text><text x="249" y="819" class="lb">ØB</text><text x="249" y="832" class="lb">ØQ</text>
<text x="336" y="825" class="lb">KK3</text>
<text transform="translate(340,800) rotate(-90)" class="lb" text-anchor="middle">CC3</text>
<text transform="translate(345,741) rotate(-90)" class="lb" text-anchor="middle">FF3</text>
<text x="317" y="721" class="lb">LL3</text>
<text x="337" y="718" class="cj">制动</text><text x="336" y="849" class="cj">离合</text>
</g>
<!-- fig3 front -->
<g>
<path d="M200 898 L168 905 Q160 908 160 915 Q160 922 168 925 L200 932 Z" class="kw"/>
<path d="M296 898 L328 905 Q336 908 336 915 Q336 922 328 925 L296 932 Z" class="kw"/>
<path d="M234 872 L238 850 Q240 846 244 846 L252 846 Q256 846 258 850 L262 872 Z" class="kw"/>
<path d="M234 962 L238 984 Q240 988 244 988 L252 988 Q256 988 258 984 L262 962 Z" class="kw"/>
<use href="#fan" transform="translate(248,917) scale(.97)"/>
<g fill="#fff" stroke="#222" stroke-width="2.2"><circle cx="248" cy="857" r="6"/><circle cx="248" cy="977" r="6"/><circle cx="170" cy="915" r="5"/><circle cx="326" cy="915" r="5"/></g>
<line x1="156" y1="917" x2="340" y2="917" class="r"/><line x1="248" y1="848" x2="248" y2="990" class="r"/>
<line x1="183" y1="864.5" x2="322" y2="864.5" class="d" marker-start="url(#ar)" marker-end="url(#ar)"/>
<line x1="157" y1="855.6" x2="240" y2="855.6" class="d"/><line x1="157" y1="978" x2="240" y2="978" class="d"/>
<line x1="160" y1="856" x2="160" y2="978" class="d" marker-start="url(#ar)" marker-end="url(#ar)"/>
<text x="293" y="862" class="lb" font-size="11">S</text><text x="147" y="920" class="lb" font-size="11">C</text>
</g>

<!-- ===================== FIGURE 4 ===================== -->
<text x="578" y="665" text-anchor="middle" class="bl" font-size="16">CCB-CCSS型双制动、双离合<tspan font-size="11">（图④）</tspan></text>
<text x="578" y="683" text-anchor="middle" class="bl" font-size="10.5" textLength="261" lengthAdjust="spacingAndGlyphs">CCB-CCSS type double brake, dual-clutch (Figure ④)</text>
<text x="620" y="985" class="bl" font-size="11">（ 图④ ）</text>
<g>
<rect x="525" y="776" width="58" height="124" class="kw"/>
<path d="M525 806 Q554 795 583 806 M525 870 Q554 881 583 870" class="k"/>
<line x1="525" y1="826" x2="583" y2="826" class="k"/><line x1="525" y1="850" x2="583" y2="850" class="k"/>
<line x1="540" y1="815" x2="540" y2="861" class="k"/>
<g class="kw"><rect x="531" y="770" width="4" height="16"/><rect x="537" y="768" width="4" height="18"/><rect x="543" y="770" width="4" height="16"/><rect x="549" y="768" width="4" height="18"/><rect x="555" y="770" width="4" height="16"/><rect x="561" y="768" width="4" height="18"/><rect x="567" y="770" width="4" height="16"/>
<rect x="531" y="890" width="4" height="16"/><rect x="537" y="890" width="4" height="18"/><rect x="543" y="890" width="4" height="16"/><rect x="549" y="890" width="4" height="18"/><rect x="555" y="890" width="4" height="16"/><rect x="561" y="890" width="4" height="18"/><rect x="567" y="890" width="4" height="16"/></g>
<rect x="549.5" y="712" width="3" height="58" class="kw"/>
<rect x="547" y="712" width="30" height="10" class="kw"/><rect x="547" y="710" width="8" height="14" class="kw"/>
<rect x="563" y="747" width="54" height="15" class="kw"/><rect x="563" y="747" width="17" height="15" class="kw"/><path d="M563 747 L580 762 M580 747 L563 762" stroke="#222" stroke-width=".5"/>
<rect x="567" y="742" width="6" height="5" class="kw"/><rect x="567" y="762" width="6" height="6" class="kw"/>
<rect x="572" y="914" width="45" height="15" class="kw"/><rect x="572" y="912" width="10" height="20" class="kw"/>
<rect x="541" y="900" width="3" height="56" class="kw"/>
<rect x="537" y="954" width="31" height="8" class="kw"/><rect x="537" y="952" width="8" height="12" class="kw"/>
<line x1="543" y1="717" x2="581" y2="717" class="r"/><line x1="555" y1="754.5" x2="620" y2="754.5" class="r"/>
<line x1="520" y1="838" x2="590" y2="838" class="r"/><line x1="567" y1="921.5" x2="620" y2="921.5" class="r"/><line x1="532" y1="958" x2="570" y2="958" class="r"/>
<line x1="481" y1="717" x2="481" y2="958" class="d" marker-start="url(#ar)" marker-end="url(#ar)"/>
<line x1="478" y1="717" x2="547" y2="717" class="d"/><line x1="478" y1="958" x2="537" y2="958" class="d"/>
<line x1="496" y1="806" x2="496" y2="870" class="d" marker-start="url(#ar)" marker-end="url(#ar)"/>
<line x1="493" y1="806" x2="525" y2="806" class="d"/><line x1="493" y1="870" x2="525" y2="870" class="d"/>
<line x1="595.5" y1="826" x2="595.5" y2="850" class="d" marker-start="url(#ar)" marker-end="url(#ar)"/>
<line x1="583" y1="826" x2="598" y2="826" class="d"/><line x1="583" y1="850" x2="598" y2="850" class="d"/>
<line x1="616" y1="775" x2="616" y2="900" class="d" marker-start="url(#ar)" marker-end="url(#ar)"/>
<line x1="627" y1="771" x2="627" y2="904" class="d" marker-start="url(#ar)" marker-end="url(#ar)"/>
<line x1="640" y1="767" x2="640" y2="909" class="d" marker-start="url(#ar)" marker-end="url(#ar)"/>
<line x1="654" y1="753" x2="654" y2="921" class="d" marker-start="url(#ar)" marker-end="url(#ar)"/>
<g class="d"><line x1="583" y1="775" x2="619" y2="775"/><line x1="583" y1="900" x2="619" y2="900"/><line x1="575" y1="771" x2="630" y2="771"/><line x1="575" y1="904" x2="630" y2="904"/><line x1="570" y1="767" x2="643" y2="767"/><line x1="570" y1="909" x2="643" y2="909"/><line x1="617" y1="753" x2="657" y2="753"/><line x1="617" y1="921" x2="657" y2="921"/>
<line x1="525" y1="900" x2="525" y2="993"/><line x1="583" y1="900" x2="583" y2="993"/><line x1="560" y1="956" x2="560" y2="982"/><line x1="577" y1="700" x2="577" y2="712"/><line x1="555" y1="700" x2="555" y2="712"/><line x1="583" y1="770" x2="583" y2="740"/><line x1="617" y1="740" x2="630" y2="740"/><line x1="617" y1="929" x2="630" y2="929"/><line x1="617" y1="914" x2="630" y2="914"/>
<line x1="535" y1="706" x2="535" y2="752"/><line x1="530" y1="712" x2="547" y2="712"/><line x1="530" y1="722" x2="547" y2="722"/></g>
<line x1="555" y1="705" x2="577" y2="705" class="d" marker-start="url(#ar)" marker-end="url(#ar)"/>
<line x1="555" y1="733" x2="583" y2="733" class="d" marker-start="url(#ar)" marker-end="url(#ar)"/>
<line x1="583" y1="741" x2="617" y2="741" class="d" marker-start="url(#ar)" marker-end="url(#ar)"/>
<line x1="627" y1="747" x2="627" y2="762" class="d" marker-start="url(#ar)" marker-end="url(#ar)"/>
<line x1="583" y1="802" x2="603" y2="802" class="d"/><line x1="583" y1="955" x2="603" y2="955" class="d"/>
<line x1="560" y1="977" x2="583" y2="977" class="d" marker-start="url(#ar)" marker-end="url(#ar)"/>
<line x1="525" y1="990" x2="583" y2="990" class="d" marker-start="url(#ar)" marker-end="url(#ar)"/>
<line x1="626" y1="914" x2="626" y2="929" class="d" marker-start="url(#ar)" marker-end="url(#ar)"/>
<line x1="508" y1="830" x2="540" y2="830" class="d" marker-end="url(#ar)"/>
<line x1="515" y1="854" x2="540" y2="840" class="d"/>
<text x="561" y="707" class="lb">FF2</text><text x="564" y="730" class="lb">GG2</text><text x="592" y="739" class="lb">CC2</text>
<text transform="translate(629,724) rotate(-90)" class="lb" text-anchor="middle">ØKK2</text>
<text transform="translate(535,742) rotate(-90)" class="lb" text-anchor="middle">ØEE2</text>
<text x="596" y="802" class="lb">LL2</text><text x="508" y="829" class="lb">N</text><text x="503" y="855" class="lb">ØP</text>
<text transform="translate(476,838) rotate(-90)" class="lb" text-anchor="middle">S</text>
<text transform="translate(494,838) rotate(-90)" class="lb" text-anchor="middle">ØF</text>
<text transform="translate(593,838) rotate(-90)" class="lb" text-anchor="middle">ØA</text>
<text transform="translate(613,838) rotate(-90)" class="lb" text-anchor="middle">ØD</text>
<text transform="translate(624,838) rotate(-90)" class="lb" text-anchor="middle">ØB</text>
<text transform="translate(637,838) rotate(-90)" class="lb" text-anchor="middle">ØQ</text>
<text transform="translate(651,838) rotate(-90)" class="lb" text-anchor="middle">C</text>
<text x="596" y="955" class="lb">LL2</text><text x="562" y="973" class="lb">GG4</text><text x="547" y="988" class="lb">M4</text>
<text transform="translate(627,955) rotate(-90)" class="lb" text-anchor="middle">ØKK2</text>
<text x="498" y="740" class="cj">制动</text><text x="637" y="732" class="cj">离合</text>
</g>
</svg>
</body></html>
